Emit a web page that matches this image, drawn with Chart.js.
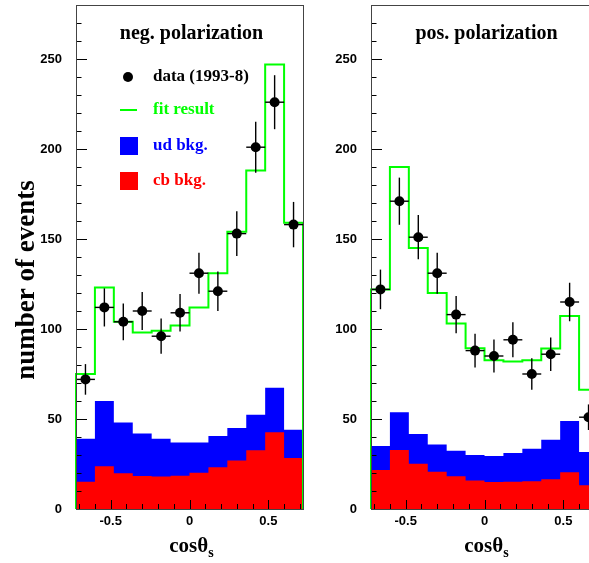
<!DOCTYPE html>
<html>
<head>
<meta charset="utf-8">
<script src="https://cdn.jsdelivr.net/npm/chart.js@4.4.1/dist/chart.umd.min.js"></script>
<style>
html, body { margin: 0; padding: 0; background: #fff; overflow: hidden; width: 589px; height: 563px; }
#neg { position: absolute; left: 0; top: 0; }
#pos { position: absolute; left: 305px; top: 0; }
</style>
</head>
<body>
<canvas id="neg" width="310" height="563"></canvas>
<canvas id="pos" width="300" height="563"></canvas>
<script>
// bins in cos(theta_s)
const binEdges = [-0.72, -0.6, -0.48, -0.36, -0.24, -0.12, 0, 0.12, 0.24, 0.36, 0.48, 0.6, 0.72];
const binCenters = [-0.66, -0.54, -0.42, -0.3, -0.18, -0.06, 0.06, 0.18, 0.3, 0.42, 0.54, 0.66];
const xTicks = [-0.5, 0, 0.5];
const yTicks = [0, 50, 100, 150, 200, 250];

// negative polarization
const negData = [72, 112, 104, 110, 96, 109, 131, 121, 153, 201, 226, 158];
const negErr = [8.5, 10.6, 10.2, 10.5, 9.8, 10.4, 11.4, 11, 12.4, 14.2, 15, 12.6];
const negFit = [75, 123, 104, 98, 99, 102, 112, 131, 154, 188, 247, 159];
const negUdStack = [39, 60, 48, 42, 39, 37, 37, 40.5, 45, 52.4, 67.4, 44];
const negCb = [15.2, 23.7, 19.8, 18.3, 18.1, 18.5, 20.2, 23.2, 26.9, 32.6, 42.6, 28.3];

// positive polarization
const posData = [122, 171, 151, 131, 108, 88, 85, 94, 75, 86, 115, 51];
const posErr = [11, 13.1, 12.3, 11.4, 10.4, 9.4, 9.2, 9.7, 8.7, 9.3, 10.7, 7.1];
const posFit = [122, 190, 145, 120, 103, 89.3, 82.6, 81.9, 82.6, 89.1, 107.2, 66.3];
const posUdStack = [35, 53.7, 41.7, 35.8, 32.4, 30, 29.4, 31.1, 33.5, 38.5, 48.9, 31.7];
const posCb = [21.7, 32.8, 25.2, 20.7, 18.2, 15.9, 15, 15.2, 15.4, 16.5, 20.4, 13.2];

const BLUE = '#0000ff', RED = '#ff0000', GREEN = '#00ff00';
const serif = '"Liberation Serif", "Times New Roman", serif';
const sans = '"Liberation Sans", Arial, sans-serif';

// histogram outline as step points
function steps(vals) {
  const pts = [{x: binEdges[0], y: 0}];
  vals.forEach((v, i) => pts.push({x: binEdges[i], y: v}));
  pts.push({x: binEdges[binEdges.length - 1], y: vals[vals.length - 1]});
  pts.push({x: binEdges[binEdges.length - 1], y: 0});
  return pts;
}

function line(ctx, x1, y1, x2, y2) {
  ctx.beginPath(); ctx.moveTo(x1, y1); ctx.lineTo(x2, y2); ctx.stroke();
}

const panelDeco = {
  id: 'panelDeco',
  afterDatasetsDraw(chart, args, opts) {
    const {ctx, scales: {x, y}} = chart;
    ctx.save();
    ctx.strokeStyle = '#000';
    ctx.lineWidth = 1.4;
    opts.values.forEach((v, i) => {
      const px = x.getPixelForValue(binCenters[i]);
      const py = y.getPixelForValue(v);
      line(ctx, px, y.getPixelForValue(v - opts.errors[i]), px, y.getPixelForValue(v + opts.errors[i]));
      line(ctx, x.getPixelForValue(binEdges[i]), py, x.getPixelForValue(binEdges[i + 1]), py);
    });
    ctx.restore();
  },
  afterDraw(chart, args, opts) {
    const {ctx, chartArea: a, scales: {x, y}} = chart;
    ctx.save();
    // ticks (inside frame)
    ctx.strokeStyle = '#000';
    ctx.lineWidth = 1;
    for (let v = 0; v < 280; v += 10) {
      const py = Math.round(y.getPixelForValue(v)) + 0.5;
      line(ctx, a.left, py, a.left + (v % 50 === 0 ? 11 : 5.5), py);
    }
    for (let k = -7; k <= 7; k++) {
      const px = Math.round(x.getPixelForValue(k / 10)) + 0.5;
      line(ctx, px, a.bottom, px, a.bottom - (k % 5 === 0 ? 9 : 5));
    }
    // frame
    ctx.strokeStyle = '#444';
    ctx.strokeRect(Math.round(a.left) + 0.5, Math.round(a.top) + 0.5, Math.round(a.right - a.left), Math.round(a.bottom - a.top));

    // panel title
    ctx.fillStyle = '#000';
    ctx.textAlign = 'center';
    ctx.textBaseline = 'middle';
    ctx.font = 'bold 20px ' + serif;
    ctx.fillText(opts.title, (a.left + a.right) / 2 + 2, 34);

    // x title cos(theta)_s
    const cx = (a.left + a.right) / 2 + 2;
    ctx.font = 'bold 21px ' + serif;
    ctx.textBaseline = 'alphabetic';
    ctx.textAlign = 'left';
    const w1 = ctx.measureText('cosθ').width;
    ctx.font = 'bold 14px ' + serif;
    const w2 = ctx.measureText('s').width;
    const x0 = cx - (w1 + w2) / 2;
    ctx.font = 'bold 21px ' + serif;
    ctx.fillText('cosθ', x0, 552);
    ctx.font = 'bold 14px ' + serif;
    ctx.fillText('s', x0 + w1, 557);

    // y title
    if (opts.yTitle) {
      ctx.save();
      ctx.translate(34, 280);
      ctx.rotate(-Math.PI / 2);
      ctx.textAlign = 'center';
      ctx.textBaseline = 'alphabetic';
      ctx.font = 'bold 27px ' + serif;
      ctx.fillText(opts.yTitle, 0, 0);
      ctx.restore();
    }

    // legend
    if (opts.legend) {
      const mx = a.left + 52, tx = a.left + 77;
      ctx.font = 'bold 17px ' + serif;
      ctx.textAlign = 'left';
      ctx.textBaseline = 'middle';
      ctx.fillStyle = '#000';
      ctx.beginPath(); ctx.arc(mx, 77, 5, 0, Math.PI * 2); ctx.fill();
      ctx.fillText('data (1993-8)', tx, 77);
      ctx.strokeStyle = GREEN; ctx.lineWidth = 2;
      line(ctx, mx - 8, 110, mx + 9, 110);
      ctx.fillStyle = GREEN;
      ctx.fillText('fit result', tx, 110);
      ctx.fillStyle = BLUE;
      ctx.fillRect(mx - 8, 137, 18, 18);
      ctx.fillText('ud bkg.', tx, 146);
      ctx.fillStyle = RED;
      ctx.fillRect(mx - 8, 172, 18, 18);
      ctx.fillText('cb bkg.', tx, 181);
    }
    ctx.restore();
  }
};

function makePanel(id, vals, errs, fit, udStack, cb, title, yTitle, plotLeft) {
  return new Chart(document.getElementById(id), {
    type: 'line',
    data: {
      datasets: [
        {type: 'scatter', data: binCenters.map((c, i) => ({x: c, y: vals[i]})),
         pointRadius: 5, pointBackgroundColor: '#000', pointBorderWidth: 0, showLine: false, clip: 8},
        {data: steps(fit), stepped: true, borderColor: GREEN, borderWidth: 2, pointRadius: 0, fill: false, clip: 3},
        {data: steps(cb), stepped: true, borderWidth: 0, pointRadius: 0, backgroundColor: RED, fill: 'origin'},
        {data: steps(udStack), stepped: true, borderWidth: 0, pointRadius: 0, backgroundColor: BLUE, fill: 'origin'}
      ]
    },
    options: {
      responsive: false,
      animation: false,
      layout: {padding: {top: 5, right: 7, left: 0, bottom: 0}},
      plugins: {
        legend: {display: false},
        tooltip: {enabled: false},
        panelDeco: {values: vals, errors: errs, title: title, yTitle: yTitle, legend: !!yTitle}
      },
      scales: {
        x: {
          type: 'linear', min: -0.72, max: 0.72,
          grid: {display: false, drawTicks: false}, border: {display: false},
          afterBuildTicks: s => { s.ticks = xTicks.map(v => ({value: v})); },
          afterFit: s => { s.height = 54; s.paddingLeft = 0; s.paddingRight = 0; },
          ticks: {color: '#000', padding: 5, maxRotation: 0, font: {family: sans, weight: 'bold', size: 13}, callback: v => String(v)}
        },
        y: {
          type: 'linear', min: 0, max: 280,
          grid: {display: false, drawTicks: false}, border: {display: false},
          afterBuildTicks: s => { s.ticks = yTicks.map(v => ({value: v})); },
          afterFit: s => { s.width = plotLeft; s.paddingTop = 0; s.paddingBottom = 0; },
          ticks: {color: '#000', padding: 14, font: {family: sans, weight: 'bold', size: 13}, callback: v => String(v)}
        }
      }
    },
    plugins: [panelDeco]
  });
}

makePanel('neg', negData, negErr, negFit, negUdStack, negCb, 'neg. polarization', 'number of events', 76);
makePanel('pos', posData, posErr, posFit, posUdStack, posCb, 'pos. polarization', null, 66);
</script>
</body>
</html>
